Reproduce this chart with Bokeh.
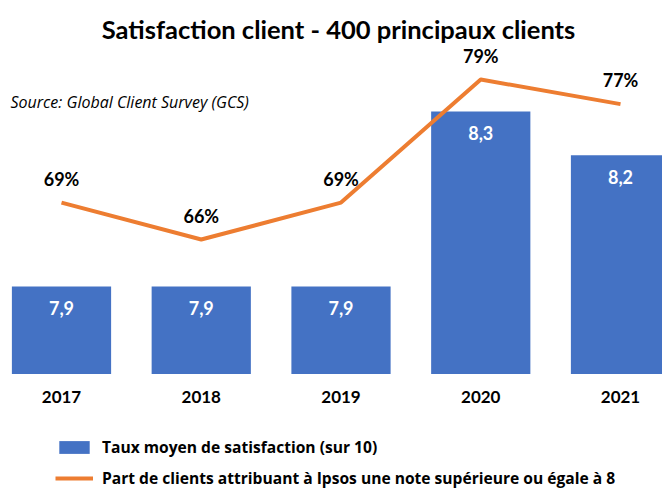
from bokeh.plotting import figure
from bokeh.models import (ColumnDataSource, Range1d, LinearAxis, FixedTicker,
                          Legend, LegendItem, Label)
from bokeh.embed import file_html
from bokeh.resources import INLINE
from bokeh.core.properties import value

# ---- data ----
years = ["2017", "2018", "2019", "2020", "2021"]
satisfaction = [7.9, 7.9, 7.9, 8.3, 8.2]          # Taux moyen de satisfaction (sur 10)
share_pct = [69, 66, 69, 79, 77]                   # Part de clients (note >= 8), %
BAR_BASE = 7.7

title_text = "Satisfaction client - 400 principaux clients"
source_text = "Source: Global Client Survey (GCS)"
bar_legend = "Taux moyen de satisfaction (sur 10)"
line_legend = "Part de clients attribuant à Ipsos une note supérieure ou égale à 8"

FONT = "Lato"
BLUE = "#4472C4"
ORANGE = "#ED7D31"

xs = list(range(len(years)))
src = ColumnDataSource(dict(
    x=xs,
    sat=satisfaction,
    sat_lbl=[f"{v:.1f}".replace(".", ",") for v in satisfaction],
    pct=share_pct,
    pct_lbl=[f"{v}%" for v in share_pct],
))

p = figure(width=662, height=489, output_backend="svg", toolbar_location=None,
           x_range=Range1d(-0.4365, 4.3005), y_range=Range1d(7.436, 8.5537),
           x_axis_location=None, y_axis_location=None, min_border=0,
           outline_line_color=None)
p.background_fill_color = "white"
p.border_fill_color = "white"
p.xgrid.visible = False
p.ygrid.visible = False
p.extra_y_ranges = {"pct": Range1d(45.69, 85.42)}

# bars
bars = p.vbar(x="x", top="sat", bottom=BAR_BASE, width=0.71, source=src,
              fill_color=BLUE, line_color=None)
p.text(x="x", y="sat", text="sat_lbl", source=src, y_offset=22,
       text_align="center", text_baseline="middle", text_color="white",
       text_font=value(FONT), text_font_style="bold", text_font_size="18px")

# line
ln = p.line(x="x", y="pct", source=src, y_range_name="pct",
            line_color=ORANGE, line_width=4, line_join="round")
p.text(x="x", y="pct", text="pct_lbl", source=src, y_range_name="pct",
       y_offset=-24, text_align="center", text_baseline="middle",
       text_color="black", text_font=value(FONT), text_font_style="bold",
       text_font_size="18px")

# x axis fixed at the bar baseline
xaxis = LinearAxis(fixed_location=BAR_BASE, ticker=FixedTicker(ticks=xs),
                   major_label_overrides={i: y for i, y in zip(xs, years)})
xaxis.axis_line_color = None
xaxis.major_tick_line_color = None
xaxis.minor_tick_line_color = None
xaxis.major_tick_out = 0
xaxis.major_tick_in = 0
xaxis.major_label_standoff = 17
xaxis.major_label_text_font = FONT
xaxis.major_label_text_font_style = "bold"
xaxis.major_label_text_font_size = "17px"
xaxis.major_label_text_color = "black"
p.add_layout(xaxis, "below")

# title and source
p.add_layout(Label(x=338, y=461, x_units="screen", y_units="screen",
                   text=title_text, text_align="center", text_baseline="middle",
                   text_font=FONT, text_font_style="bold", text_font_size="25.5px",
                   text_color="black"))
p.add_layout(Label(x=10, y=388, x_units="screen", y_units="screen",
                   text=source_text, text_align="left", text_baseline="middle",
                   text_font="Open Sans", text_font_style="italic",
                   text_font_size="16px", text_color="black"))

legend = Legend(items=[LegendItem(label=bar_legend, renderers=[bars]),
                       LegendItem(label=line_legend, renderers=[ln])],
                location=(55, 0), orientation="vertical",
                glyph_width=38, glyph_height=16, label_height=16,
                spacing=9, padding=0, margin=0, label_standoff=9,
                border_line_color=None, background_fill_alpha=0,
                label_text_font="Open Sans", label_text_font_style="bold",
                label_text_font_size="15.6px", label_text_color="black")
p.add_layout(legend, "center")

open("out.html", "w").write(file_html(p, INLINE))
